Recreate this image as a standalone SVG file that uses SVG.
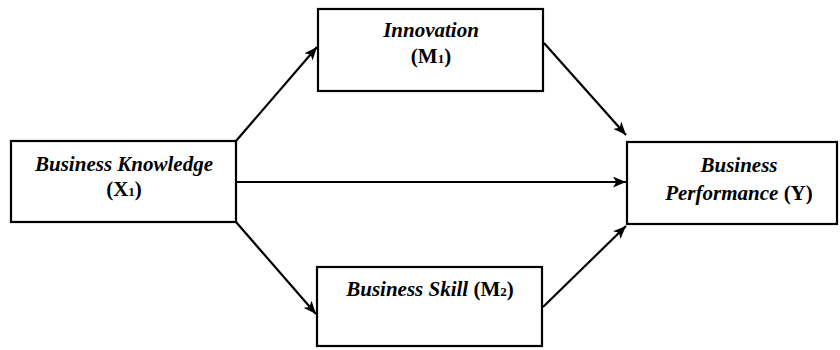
<svg xmlns="http://www.w3.org/2000/svg" width="840" height="350" viewBox="0 0 840 350">
<defs>
<marker id="arr" viewBox="0 0 12 10" refX="12" refY="5" markerWidth="13" markerHeight="11" markerUnits="userSpaceOnUse" orient="auto">
<path d="M0,0 L12,5 L0,10 L3,5 z" fill="#000"/>
</marker>
<style>
.box{fill:#fff;stroke:#000;stroke-width:2.2}
.t{font-family:"Liberation Serif","Times New Roman","DejaVu Serif",serif;font-size:21px;font-weight:bold;fill:#000;text-anchor:middle}
.i{font-style:italic}
.sub{font-size:13px}
.c{stroke:#000;stroke-width:2.2;fill:none;marker-end:url(#arr)}
</style>
</defs>
<rect width="840" height="350" fill="#fff"/>
<g id="connectors">
<line class="c" x1="236" y1="141" x2="317" y2="47"/>
<line class="c" x1="236" y1="182" x2="626" y2="182"/>
<line class="c" x1="236" y1="222" x2="316" y2="314"/>
<line class="c" x1="544" y1="43" x2="626" y2="135"/>
<line class="c" x1="543" y1="307" x2="626" y2="226"/>
</g>
<g id="x1">
<rect class="box" x="11" y="141" width="225" height="81"/>
<text class="t" x="124" y="171" font-family="Liberation Serif, serif"><tspan class="i">Business Knowledge</tspan></text>
<text class="t" x="124" y="196" font-family="Liberation Serif, serif">(X<tspan class="sub">1</tspan>)</text>
</g>
<g id="m1">
<rect class="box" x="318" y="9" width="225" height="82"/>
<text class="t" x="431" y="37" font-family="Liberation Serif, serif"><tspan class="i">Innovation</tspan></text>
<text class="t" x="431" y="63" font-family="Liberation Serif, serif">(M<tspan class="sub">1</tspan>)</text>
</g>
<g id="m2">
<rect class="box" x="317" y="267" width="225" height="79"/>
<text class="t" x="430" y="296" font-family="Liberation Serif, serif"><tspan class="i">Business Skill</tspan> (M<tspan class="sub">2</tspan>)</text>
</g>
<g id="y">
<rect class="box" x="627" y="142" width="210" height="82"/>
<text class="t" x="739" y="172" font-family="Liberation Serif, serif"><tspan class="i">Business</tspan></text>
<text class="t" x="739" y="200" font-family="Liberation Serif, serif"><tspan class="i">Performance</tspan> (Y)</text>
</g>
</svg>
